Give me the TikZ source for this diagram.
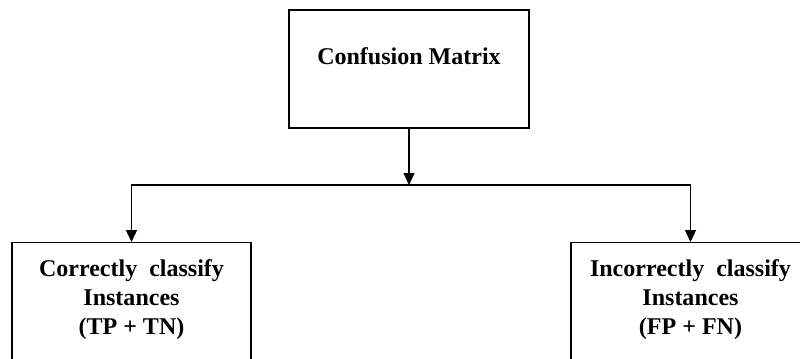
\documentclass[tikz,border=0pt]{standalone}
\usepackage{fontspec}
\setmainfont{Liberation Serif}
\usepackage{tikz}
\usetikzlibrary{positioning, arrows.meta}
\tikzstyle{topbox} = [rectangle, draw=black, line width=1.1pt, minimum width=7.2cm,
           minimum height=3.54cm, text height=0.54cm, text depth=0.84cm,
           font=\fontsize{20.5}{24.7}\selectfont\bfseries]
\tikzstyle{classbox} = [rectangle, draw=black, line width=1.1pt, minimum width=7.17cm,
           align=center, anchor=north, inner xsep=0pt, inner ysep=0.5cm, text depth=2cm,
           font=\fontsize{20.5}{24.7}\selectfont\bfseries]
\tikzstyle{arrow} = [line width=1.1pt, -{Triangle[length=0.36cm, width=0.33cm]}]

\begin{document}
\begin{tikzpicture}[x=0.03cm, y=-0.03cm]
\clip (0,0) rectangle (800,358);
\node (matrix) [topbox] at (409,69) {Confusion Matrix};
\coordinate (split) at (409,185);
\node (correct) [classbox] at (131.5,242)
   {Correctly\ \ classify\\Instances\\(TP + TN)};
\node (incorrect) [classbox] at (690.5,242)
   {Incorrectly\ \ classify\\Instances\\(FP + FN)};
\draw [arrow] (matrix) -- (split);
\draw [arrow] (split) -| (correct);
\draw [arrow] (split) -| (incorrect);
\end{tikzpicture}
\end{document}
